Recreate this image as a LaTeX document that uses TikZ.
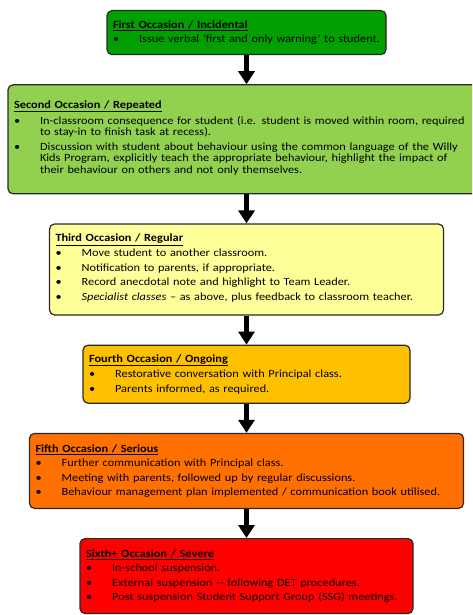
\documentclass[tikz,border=0pt]{standalone}
\usepackage{fontspec}
\setmainfont[FakeStretch=1.12]{Carlito}
\usepackage{enumitem}
\usetikzlibrary{positioning,arrows.meta}
\setlist[itemize]{label=\textbullet, nosep, leftmargin=26pt, labelindent=0pt,
  labelwidth=6pt, labelsep=20pt, align=left, itemsep=3pt, topsep=3pt}
\definecolor{occgreen}{RGB}{0,160,0}
\definecolor{occlime}{RGB}{146,208,80}
\definecolor{occyellow}{RGB}{255,255,153}
\definecolor{occamber}{RGB}{255,192,0}
\definecolor{occorange}{RGB}{255,112,0}
\definecolor{occred}{RGB}{255,0,0}
\definecolor{occline}{RGB}{40,40,40}
\newcommand{\occhead}[1]{\underline{\textbf{#1}}}
\begin{document}
\begin{tikzpicture}[x=1pt, y=1pt,
    occbox/.style={draw=occline, line width=1.2pt, rounded corners=5pt,
      inner xsep=6pt, inner ysep=0pt, align=left,
      font=\fontsize{11}{11.5}\selectfont},
    flowarrow/.style={line width=4.5pt, -{Triangle[width=16pt,length=13pt]}},
    node distance=29pt]
      \clip (0,0) rectangle (472,-615);
      %
      \node[occbox, fill=occgreen, text width=267pt, minimum height=44pt, anchor=north]
        (first) at (246.5,-10) {\occhead{First Occasion / Incidental}
        \begin{itemize}
          \item Issue verbal `first and only warning' to student.
        \end{itemize}};
      %
      \node[occbox, fill=occlime, text width=465pt, minimum height=109pt, below=of first]
        (second) {\occhead{Second Occasion / Repeated}
        \begin{itemize}
          \item In-classroom consequence for student (i.e. student is moved within room, required\\
            to stay-in to finish task at recess).
          \item Discussion with student about behaviour using the common language of the Willy\\
            Kids Program, explicitly teach the appropriate behaviour, highlight the impact of\\
            their behaviour on others and not only themselves.
        \end{itemize}\vspace{6pt}};
      %
      \node[occbox, fill=occyellow, text width=382pt, minimum height=91pt, below=of second]
        (third) {\occhead{Third Occasion / Regular}
        \begin{itemize}
          \item Move student to another classroom.
          \item Notification to parents, if appropriate.
          \item Record anecdotal note and highlight to Team Leader.
          \item \textit{Specialist classes} -- as above, plus feedback to classroom teacher.
        \end{itemize}\vspace{2pt}};
      %
      \node[occbox, fill=occamber, text width=315pt, minimum height=58pt, below=of third]
        (fourth) {\occhead{Fourth Occasion / Ongoing}
        \begin{itemize}
          \item Restorative conversation with Principal class.
          \item Parents informed, as required.
        \end{itemize}};
      %
      \node[occbox, fill=occorange, text width=422pt, minimum height=75pt, below=of fourth]
        (fifth) {\occhead{Fifth Occasion / Serious}
        \begin{itemize}
          \item Further communication with Principal class.
          \item Meeting with parents, followed up by regular discussions.
          \item Behaviour management plan implemented / communication book utilised.
        \end{itemize}};
      %
      \node[occbox, fill=occred, text width=321pt, minimum height=75pt, below=of fifth]
        (sixth) {\occhead{Sixth+ Occasion / Severe}
        \begin{itemize}
          \item In-school suspension.
          \item External suspension -{}- following DET procedures.
          \item Post suspension Student Support Group (SSG) meetings.
        \end{itemize}};
      %
      \draw[flowarrow] (first) -- (second);
      \draw[flowarrow] (second) -- (third);
      \draw[flowarrow] (third) -- (fourth);
      \draw[flowarrow] (fourth) -- (fifth);
      \draw[flowarrow] (fifth) -- (sixth);
      %
    \end{tikzpicture}
\end{document}
